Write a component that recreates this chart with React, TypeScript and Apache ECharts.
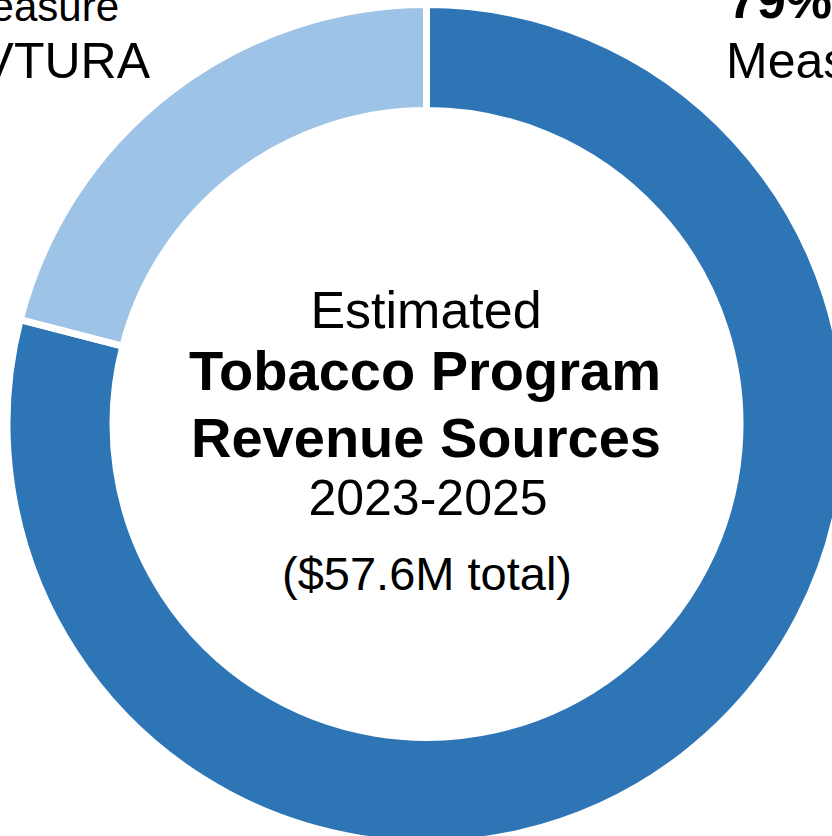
import React, { useEffect, useRef } from "react";
import * as echarts from "echarts";

const categories = ["Measure 108", "Measure 44/VTURA"];
const shares = [79, 21];
const colors = ["#2E75B6", "#9DC3E6"];
const titleLines = ["Estimated", "Tobacco Program", "Revenue Sources", "2023-2025", "($57.6M total)"];

export default function App() {
  const ref = useRef<HTMLDivElement>(null);
  useEffect(() => {
    if (!ref.current) return;
    const chart = echarts.init(ref.current, null, { renderer: "svg" });
    const font = "Liberation Sans, Arial, sans-serif";
    // baseline-based placement
    const txt = (text: string, x: number, baseline: number, size: number, bold: boolean, align: string) => ({
      type: "text",
      x,
      y: baseline - 0.85 * size,
      style: {
        text,
        fontSize: size,
        fontWeight: bold ? "bold" : "normal",
        fontFamily: font,
        fill: "#000",
        textAlign: align,
        textVerticalAlign: "top",
      },
    });
    const leftLabel = `${shares[1]}%`;
    const rightLabel = `${shares[0]}%`;
    const leftParts = categories[1].split(" ");
    const graphics = [
      // center title
      txt(titleLines[0], 426, 328, 52, false, "center"),
      txt(titleLines[1], 425, 390, 56, true, "center"),
      txt(titleLines[2], 426, 457, 56, true, "center"),
      txt(titleLines[3], 428, 515, 50, false, "center"),
      txt(titleLines[4], 427, 590, 47, false, "center"),
      // right label (79%)
      txt(rightLabel, 728, 18, 52, true, "left"),
      txt(categories[0], 726, 78, 50, false, "left"),
      // left label (21%)
      txt(leftLabel, 40, -38, 52, true, "right"),
      txt(leftParts[0], 119, 21, 42, false, "right"),
      txt(leftParts[1], 150, 78, 50, false, "right"),
    ];
    chart.setOption({
      animation: false,
      backgroundColor: "#ffffff",
      series: [
        {
          type: "pie",
          center: [426.5, 424],
          radius: [313.5, 419.5],
          startAngle: 90,
          clockwise: true,
          label: { show: false },
          labelLine: { show: false },
          silent: true,
          itemStyle: { borderColor: "#ffffff", borderWidth: 7 },
          data: categories.map((name, i) => ({
            name,
            value: shares[i],
            itemStyle: { color: colors[i] },
          })),
        },
      ],
      graphic: graphics,
    });
    return () => chart.dispose();
  }, []);
  return (
    <div
      ref={ref}
      style={{ position: "fixed", left: 0, top: 0, width: 832, height: 836 }}
    />
  );
}
